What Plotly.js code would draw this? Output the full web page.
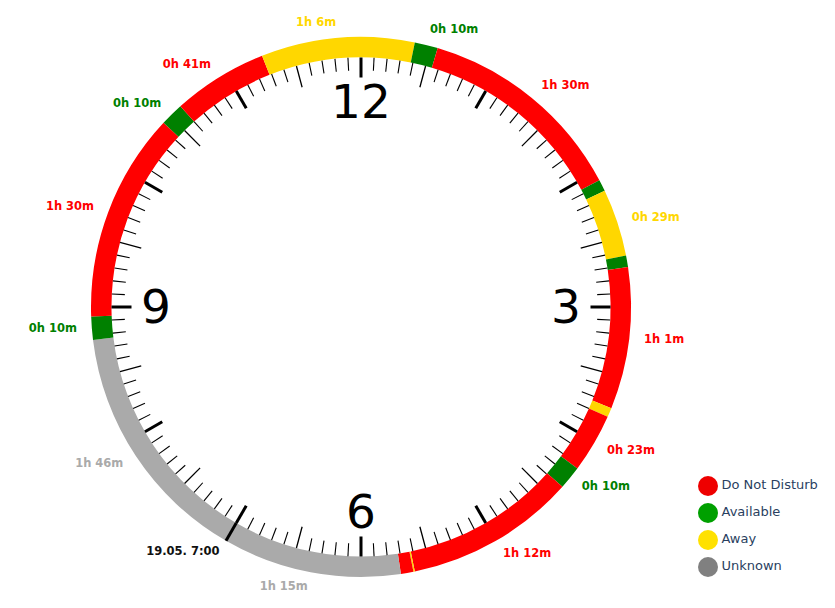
<!DOCTYPE html>
<html><head><meta charset="utf-8">
<script src="https://cdn.plot.ly/plotly-3.0.1.min.js"></script>
<style>html,body{margin:0;padding:0;background:#fff}#chart{width:835px;height:608px}</style>
</head><body><div id="chart"></div>
<script>
// ---- data ----
const segStatus = ['Unknown','Available','Do Not Disturb','Available','Do Not Disturb','Away','Available',
  'Do Not Disturb','Available','Away','Available','Do Not Disturb','Away','Do Not Disturb','Available',
  'Do Not Disturb','Away','Do Not Disturb','Unknown'];
const segMinutes = [106,10,90,10,41,66,10,91,5,29,5,61,4,25.5,10,73.5,0.6,5.4,77];
const segLabels = ['1h 46m','0h 10m','1h 30m','0h 10m','0h 41m','1h 6m','0h 10m','1h 30m','','0h 29m','',
  '1h 1m','','0h 23m','0h 10m','1h 12m','','','1h 15m'];
const startMinutes = 420;            // 7:00 on the 12h dial
const startLabel = '19.05. 7:00';
const clockNumbers = ['12','3','6','9'];
const clockNumberHours = [0,3,6,9];
const legendNames = ['Do Not Disturb','Available','Away','Unknown'];

// ---- styles ----
const ringColors = {'Do Not Disturb':'#FF0000','Available':'#008000','Away':'#FFD700','Unknown':'#AAAAAA'};
const labelColors = ringColors;
const legendColors = {'Do Not Disturb':'#EE0000','Available':'#00A000','Away':'#FFE100','Unknown':'#808080'};
const DEG_PER_MIN = 0.5;
const R_MAX = 300, R_IN = 249.5, R_OUT = 270, R_LABEL = 285, R_NUM = 205, NUM_DY = 4.5;

// ring segments
let cum = startMinutes;
const segTheta = [], segWidth = [], segColor = [];
const labTheta = [], labText = [], labPos = [], labColor = [];
segMinutes.forEach((m, i) => {
  const mid = (cum + m / 2) * DEG_PER_MIN;
  segTheta.push(mid);
  segWidth.push(m * DEG_PER_MIN);
  segColor.push(ringColors[segStatus[i]]);
  if (segLabels[i]) {
    const a = ((mid % 360) + 360) % 360;
    labTheta.push(a);
    labText.push(segLabels[i]);
    labPos.push(a < 180 ? 'middle right' : 'middle left');
    labColor.push(labelColors[segStatus[i]]);
  }
  cum += m;
});

const ring = {
  type: 'barpolar', theta: segTheta, width: segWidth,
  r: segTheta.map(() => R_OUT - R_IN), base: segTheta.map(() => R_IN),
  marker: {color: segColor, line: {width: 0}}, showlegend: false, hoverinfo: 'skip'
};

// tick marks every 6 minutes
function tickTrace(filterFn, len, w) {
  const th = [], rr = [];
  for (let m = 0; m < 720; m += 6) {
    if (!filterFn(m)) continue;
    th.push(m * DEG_PER_MIN, m * DEG_PER_MIN, null);
    rr.push(R_IN, R_IN - len, null);
  }
  return {type: 'scatterpolar', mode: 'lines', theta: th, r: rr, connectgaps: false,
    line: {color: '#000', width: w}, showlegend: false, hoverinfo: 'skip'};
}
const hourTicks = tickTrace(m => m % 60 === 0, 20, 3);
const halfTicks = tickTrace(m => m % 30 === 0 && m % 60 !== 0, 22, 1.3);
const minorTicks = tickTrace(m => m % 30 !== 0, 13, 1.1);

const startMark = {type: 'scatterpolar', mode: 'lines',
  theta: [startMinutes * DEG_PER_MIN, startMinutes * DEG_PER_MIN], r: [R_IN, R_OUT],
  line: {color: '#000', width: 3}, showlegend: false, hoverinfo: 'skip'};

const startText = {type: 'scatterpolar', mode: 'text', theta: [startMinutes * DEG_PER_MIN], r: [R_LABEL - 2],
  text: [startLabel], textposition: 'middle left', cliponaxis: false,
  textfont: {family: 'DejaVu Sans', size: 11.5, color: '#111', weight: 'bold'},
  showlegend: false, hoverinfo: 'skip'};

const labels = {type: 'scatterpolar', mode: 'text', theta: labTheta, r: labTheta.map(() => R_LABEL),
  text: labText, textposition: labPos, cliponaxis: false,
  textfont: {family: 'DejaVu Sans', size: 11.5, color: labColor, weight: 'bold'},
  showlegend: false, hoverinfo: 'skip'};

// clock numbers, nudged down a few px so the digits sit centred on their spot
const numTheta = [], numR = [];
clockNumberHours.forEach(h => {
  const a = h * 30 * Math.PI / 180;
  const x = R_NUM * Math.sin(a), y = R_NUM * Math.cos(a) - NUM_DY;
  numR.push(Math.hypot(x, y));
  numTheta.push(Math.atan2(x, y) * 180 / Math.PI);
});
const numbers = {type: 'scatterpolar', mode: 'text', theta: numTheta, r: numR,
  text: clockNumbers, textposition: 'middle center', cliponaxis: false,
  textfont: {family: 'DejaVu Sans', size: 47, color: '#000'}, showlegend: false, hoverinfo: 'skip'};

const legend = {type: 'scatter', mode: 'markers+text', xaxis: 'x', yaxis: 'y',
  x: legendNames.map(() => 0), y: legendNames.map((_, i) => i), text: legendNames,
  textposition: 'middle right', cliponaxis: false,
  marker: {size: 20, color: legendNames.map(n => legendColors[n])},
  textfont: {family: 'DejaVu Sans', size: 13, color: '#2a3f5f'}, showlegend: false, hoverinfo: 'skip'};

const W = 835, H = 608, CX = 361, CY = 307;
const layout = {
  width: W, height: H, margin: {l: 0, r: 0, t: 0, b: 0},
  paper_bgcolor: '#fff', plot_bgcolor: 'rgba(0,0,0,0)', showlegend: false,
  polar: {
    domain: {x: [(CX - R_MAX) / W, (CX + R_MAX) / W], y: [(H - CY - R_MAX) / H, (H - CY + R_MAX) / H]},
    bgcolor: 'rgba(0,0,0,0)', bargap: 0,
    radialaxis: {visible: false, range: [0, R_MAX]},
    angularaxis: {visible: false, direction: 'clockwise', rotation: 90, thetaunit: 'degrees'}
  },
  xaxis: {domain: [668 / W, 1], range: [-40, 127], visible: false, fixedrange: true},
  yaxis: {domain: [(H - 580.5) / H, (H - 472.5) / H], range: [3.5, -0.5], visible: false, fixedrange: true}
};

Plotly.newPlot('chart', [ring, minorTicks, halfTicks, hourTicks, startMark, labels, startText, numbers, legend],
  layout, {displayModeBar: false, staticPlot: true});
</script></body></html>
